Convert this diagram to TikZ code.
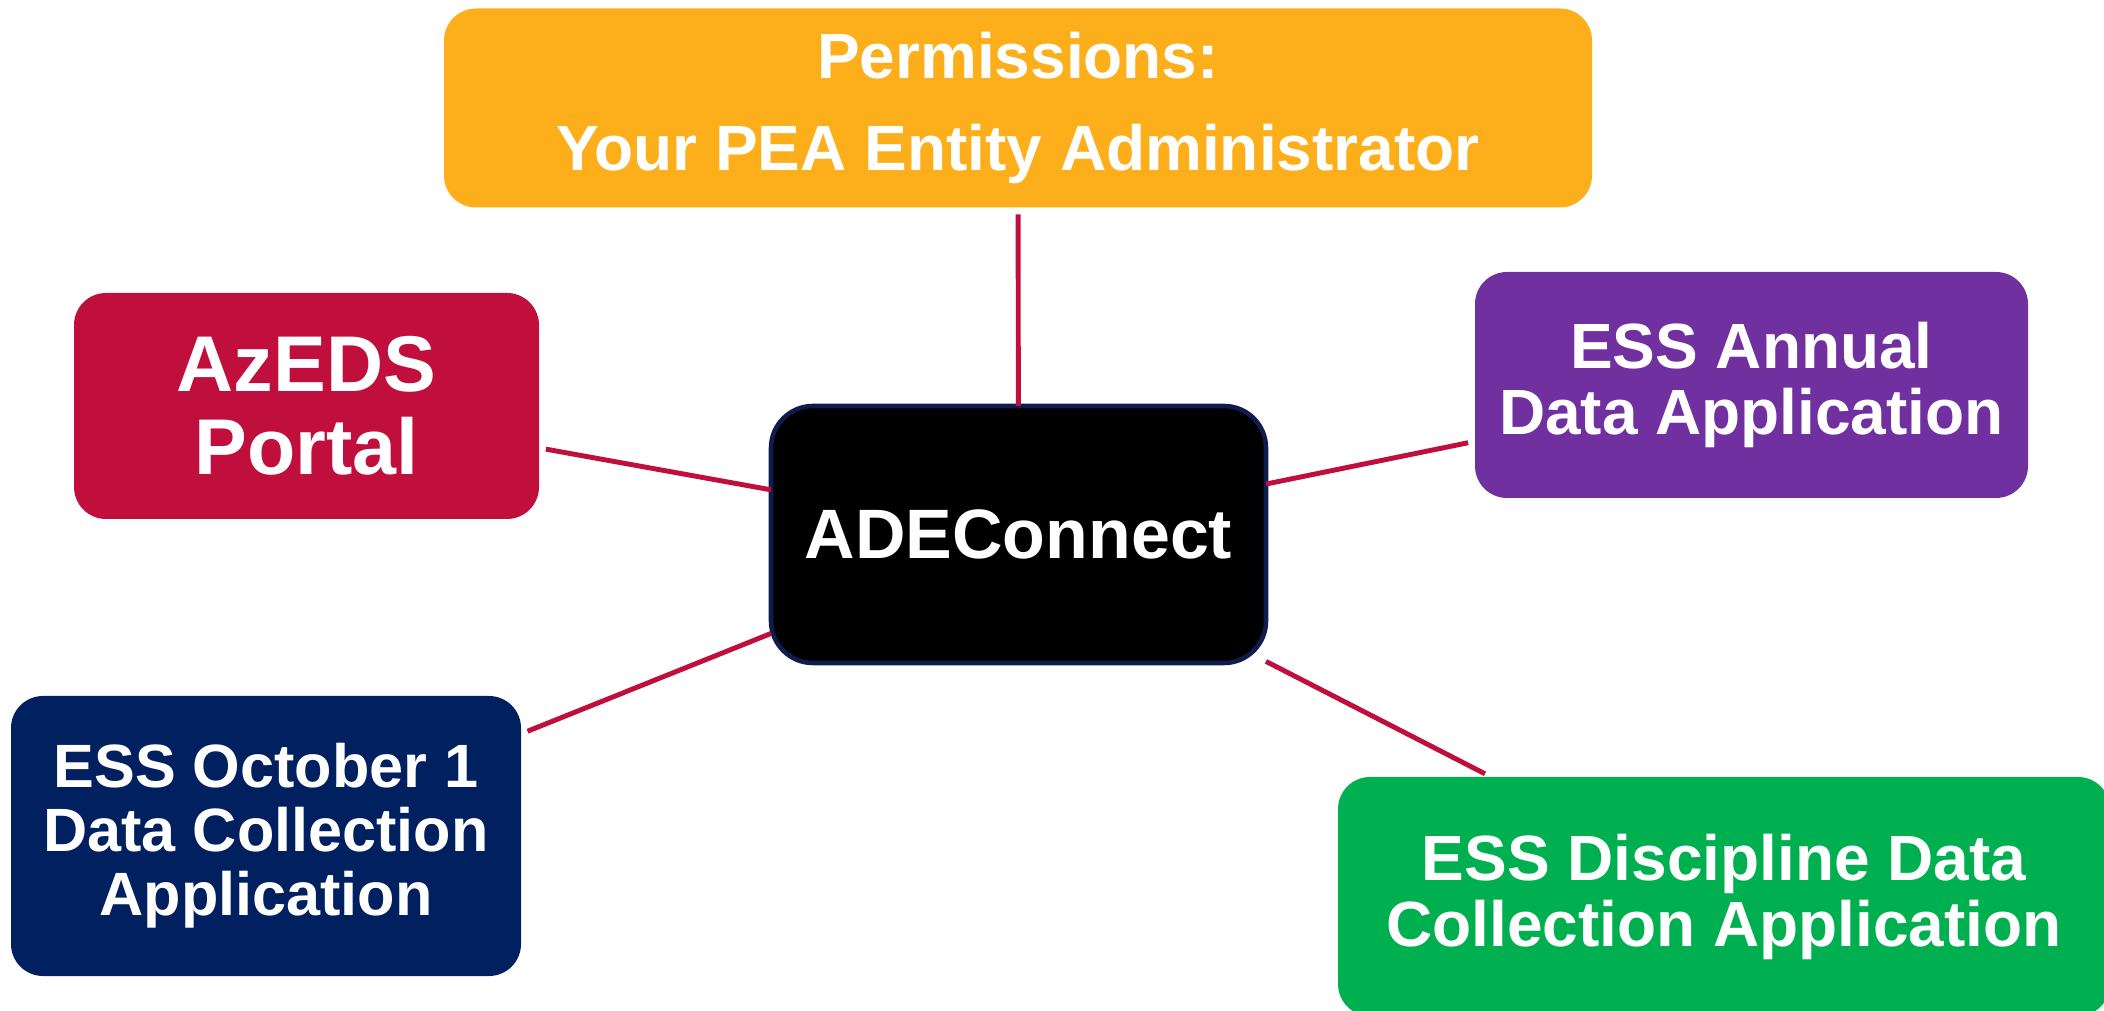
\documentclass[tikz,border=0pt]{standalone}
\usepackage{fontspec}
\setmainfont{Liberation Sans}
\definecolor{permorange}{RGB}{252,175,27}
\definecolor{azedsred}{RGB}{192,15,60}
\definecolor{annualpurple}{RGB}{112,48,160}
\definecolor{octobernavy}{RGB}{0,32,96}
\definecolor{disciplinegreen}{RGB}{0,176,80}
\definecolor{hubborder}{RGB}{14,28,78}
\definecolor{linkred}{RGB}{192,15,60}
\begin{document}
\begin{tikzpicture}[
    box/.style={rectangle, rounded corners=0.32cm, inner sep=0pt, outer sep=0pt,
      text=white, align=center, font=\bfseries\fontsize{18.2}{18.8}\selectfont},
    link/.style={draw=linkred, line width=1.4pt, shorten >=0.07cm}]
        % page frame
        \useasboundingbox (0,0) rectangle (21.04,10.10);
        % the hub
        \node[box, fill=black, draw=hubborder, line width=1.3pt, rounded corners=0.42cm,
              minimum width=4.95cm, minimum height=2.57cm,
              font=\bfseries\fontsize{19.9}{21}\selectfont] (hub) at (10.185,4.755) {ADEConnect};
        % the boxes round it
        \node[box, fill=permorange, minimum width=11.48cm, minimum height=1.99cm,
              font=\bfseries\fontsize{18.2}{26.2}\selectfont] (permissions) at (10.18,9.02)
              {Permissions:\\Your PEA Entity Administrator};
        \node[box, fill=azedsred, minimum width=4.65cm, minimum height=2.26cm,
              font=\bfseries\fontsize{22.5}{23.6}\selectfont] (azeds) at (3.065,6.04)
              {AzEDS\\Portal};
        \node[box, fill=annualpurple, minimum width=5.53cm, minimum height=2.26cm] (annual)
              at (17.515,6.25) {ESS Annual\\Data Application};
        \node[box, fill=octobernavy, minimum width=5.10cm, minimum height=2.80cm,
              font=\bfseries\fontsize{17.4}{18.2}\selectfont] (october) at (2.66,1.74)
              {ESS October 1\\Data Collection\\Application};
        \node[box, fill=disciplinegreen, minimum width=7.72cm, minimum height=2.39cm] (discipline)
              at (17.24,1.135) {ESS Discipline Data\\Collection Application};
        % the links
        \draw[link] (hub) -- (permissions);
        \draw[link] (hub) -- (azeds);
        \draw[link] (hub) -- (annual);
        \draw[link] (hub) -- (october);
        \draw[link] (hub) -- (discipline);
\end{tikzpicture}
\end{document}
